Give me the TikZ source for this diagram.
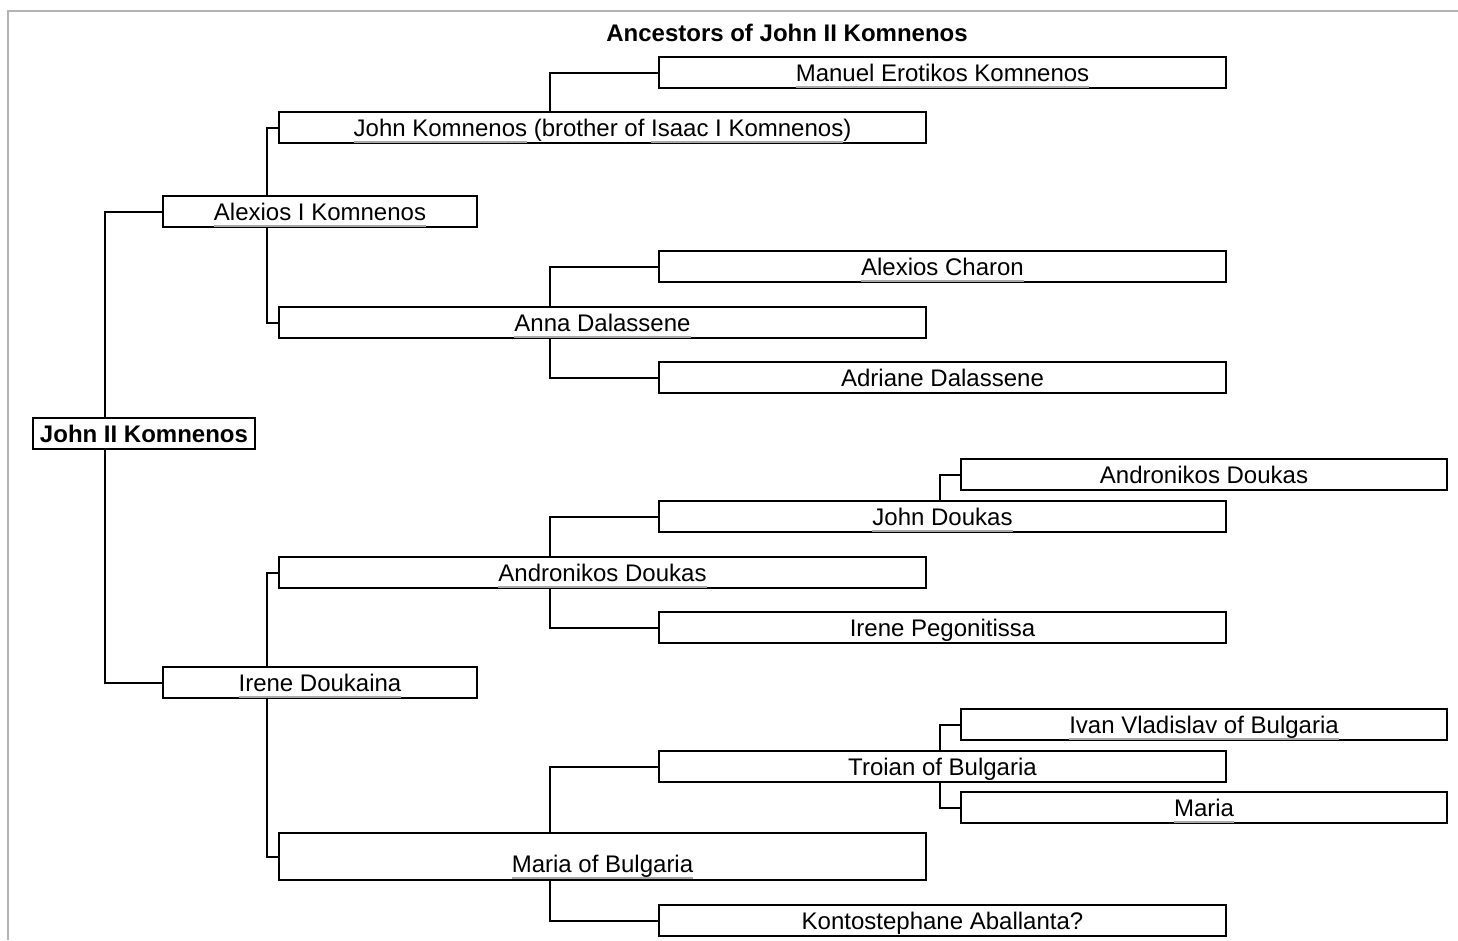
\documentclass[tikz,border=0pt]{standalone}
\usepackage{fontspec}
\setmainfont{Liberation Sans}
\definecolor{ulgray}{HTML}{A8A8A8}
\definecolor{framegray}{HTML}{B4B4B4}
\newcommand\lnk[1]{\setbox0\hbox{#1}\rlap{\textcolor{ulgray}{\rule[-6.5pt]{\wd0}{2pt}}}\box0\relax}
\pgfdeclarelayer{bg}
\pgfsetlayers{bg,main}
\tikzset{
  pbox/.style={draw, line width=2pt, fill=white, minimum height=31pt, inner sep=0pt,
    text height=19pt, text depth=2pt, font=\fontsize{24}{28}\selectfont},
  g1/.style={pbox, minimum width=222pt, font=\fontsize{24}{28}\selectfont\bfseries},
  g2/.style={pbox, minimum width=314pt},
  g3/.style={pbox, minimum width=647pt},
  g4/.style={pbox, minimum width=567pt},
  g5/.style={pbox, minimum width=486pt},
  conn/.style={draw, line width=2pt},
  frame/.style={draw=framegray, line width=2pt},
  titlestyle/.style={font=\fontsize{24}{28}\selectfont\bfseries, inner sep=0pt}
}
\begin{document}
\begin{tikzpicture}[x=1pt,y=-1pt]
\useasboundingbox (0,0) rectangle (1458,940);
\draw[frame] (8,940) -- (8,11) -- (1458,11);
\node[titlestyle] (title) at (787,33) {Ancestors of John II Komnenos};
% generation 1
\node[g1] (johnii) at (144,433.5) {John II Komnenos};
% generation 2
\node[g2] (alexios) at (320,211.5) {\lnk{Alexios I Komnenos}};
\node[g2] (irene) at (320,682.5) {\lnk{Irene Doukaina}};
% generation 3
\node[g3] (johnk) at (602.5,127.5) {\lnk{John Komnenos} (brother of \lnk{Isaac I Komnenos})};
\node[g3] (anna) at (602.5,322.5) {\lnk{Anna Dalassene}};
\node[g3] (andronikos) at (602.5,572.5) {\lnk{Andronikos Doukas}};
\node[g3, minimum height=47pt, text height=36pt, text depth=4pt] (mariab) at (602.5,856.5) {\lnk{Maria of Bulgaria}};
% generation 4
\node[g4] (manuel) at (942.5,72.5) {\lnk{Manuel Erotikos Komnenos}};
\node[g4] (charon) at (942.5,266.5) {\lnk{Alexios Charon}};
\node[g4] (adriane) at (942.5,377.5) {Adriane Dalassene};
\node[g4] (johnd) at (942.5,516.5) {\lnk{John Doukas}};
\node[g4] (irenep) at (942.5,627.5) {Irene Pegonitissa};
\node[g4] (troian) at (942.5,766.5) {Troian of Bulgaria};
\node[g4] (konto) at (942.5,920.5) {Kontostephane Aballanta?};
% generation 5
\node[g5] (androtop) at (1204,474.5) {Andronikos Doukas};
\node[g5] (ivan) at (1204,724.5) {\lnk{Ivan Vladislav of Bulgaria}};
\node[g5] (maria) at (1204,807.5) {\lnk{Maria}};
% junction columns
\coordinate (c1) at (105,0);
\coordinate (c2) at (267,0);
\coordinate (c3) at (550,0);
\coordinate (c4) at (940,0);
\begin{pgfonlayer}{bg}
\draw[conn] (alexios.west) -- (alexios.west -| c1) -- (irene.west -| c1) -- (irene.west);
\draw[conn] (johnk.west) -- (johnk.west -| c2) -- (anna.west -| c2) -- (anna.west);
\draw[conn] (andronikos.west) -- (andronikos.west -| c2) -- (mariab.west -| c2) -- (mariab.west);
\draw[conn] (johnk.north -| c3) -- (manuel.west -| c3) -- (manuel.west);
\draw[conn] (charon.west) -- (charon.west -| c3) -- (adriane.west -| c3) -- (adriane.west);
\draw[conn] (johnd.west) -- (johnd.west -| c3) -- (irenep.west -| c3) -- (irenep.west);
\draw[conn] (troian.west) -- (troian.west -| c3) -- (konto.west -| c3) -- (konto.west);
\draw[conn] (johnd.north -| c4) -- (androtop.west -| c4) -- (androtop.west);
\draw[conn] (ivan.west) -- (ivan.west -| c4) -- (maria.west -| c4) -- (maria.west);
\end{pgfonlayer}
\end{tikzpicture}
\end{document}
